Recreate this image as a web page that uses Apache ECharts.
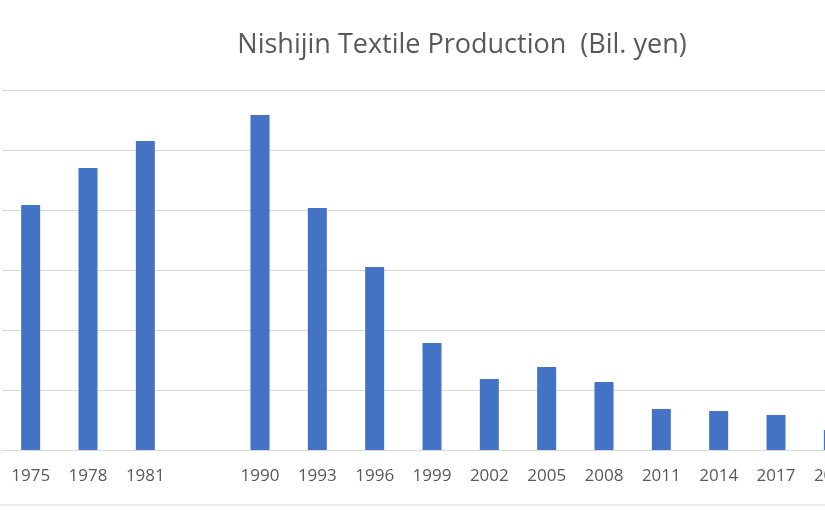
<!DOCTYPE html>
<html><head><meta charset="utf-8">
<script src="https://cdn.jsdelivr.net/npm/echarts@6/dist/echarts.min.js"></script>
<style>html,body{margin:0;padding:0;background:#fff;overflow:hidden;width:825px;height:510px}#c{width:870px;height:510px}</style>
</head><body><div id="c"></div>
<script>
const categories = ['1975','1978','1981','','1990','1993','1996','1999','2002','2005','2008','2011','2014','2017','2020'];
const production = [2042,2350,2575,null,2792,2017,1525,892,592,692,567,342,325,292,167];
const yTicks = [0,500,1000,1500,2000,2500,3000];
const chart = echarts.init(document.getElementById('c'), null, {renderer:'canvas'});
chart.setOption({
  animation:false,
  backgroundColor:'#fff',
  title:{text:'Nishijin Textile Production  (Bil. yen)', left:457, top:27, textAlign:'center',
    textStyle:{fontFamily:'Open Sans', fontWeight:'normal', fontSize:27, color:'#595959'}},
  grid:{left:2, width:860, top:90, height:360, containLabel:false},
  xAxis:{type:'category', data:categories,
    axisLine:{lineStyle:{color:'#d9d9d9'}}, axisTick:{show:false},
    axisLabel:{interval:0, margin:18, fontFamily:'Open Sans', fontSize:17, color:'#595959'}},
  yAxis:{type:'value', min:yTicks[0], max:yTicks[yTicks.length-1], interval:500,
    axisLabel:{show:false}, axisLine:{show:false}, axisTick:{show:false},
    splitLine:{lineStyle:{color:'#d9d9d9'}}},
  series:[{type:'bar', data:production, barWidth:19, itemStyle:{color:'#4472C4'}}],
  graphic:[{type:'line', shape:{x1:0,y1:505,x2:870,y2:505}, style:{stroke:'#d9d9d9', lineWidth:1}}]
});
</script></body></html>
